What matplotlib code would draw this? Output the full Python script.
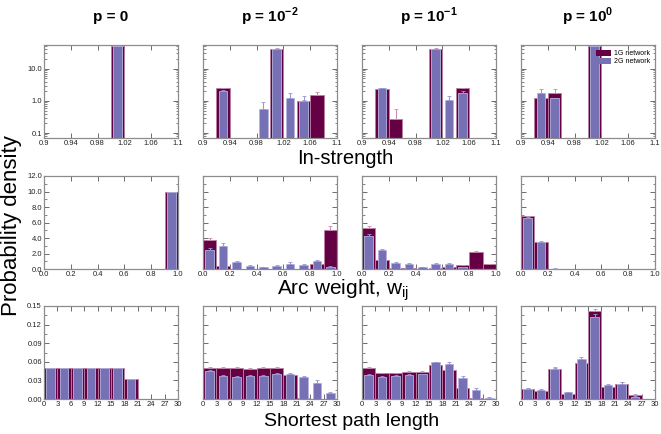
import numpy as np
import matplotlib.pyplot as plt
from matplotlib.ticker import AutoMinorLocator, FixedLocator, LogLocator, NullFormatter
from matplotlib.patches import Patch

plt.rcParams["font.family"] = ["Liberation Sans", "DejaVu Sans"]
plt.rcParams["mathtext.fontset"] = "custom"
plt.rcParams["mathtext.rm"] = "Liberation Sans"
plt.rcParams["mathtext.bf"] = "Liberation Sans:bold"

# ---- data ----
p_titles = ["p = 0", r"p = 10$^{\mathbf{-2}}$", r"p = 10$^{\mathbf{-1}}$", r"p = 10$^{\mathbf{0}}$"]

# in-strength, bins of 0.02 from 0.9 to 1.1
s_centers = [0.91, 0.93, 0.95, 0.97, 0.99, 1.01, 1.03, 1.05, 1.07, 1.09]
s_g1 = [
    [0, 0, 0, 0, 0, 50, 0, 0, 0, 0],
    [0, 2.5, 0, 0, 0, 42, 0, 1.0, 1.5, 0],
    [0, 2.3, 0.27, 0, 0, 42, 0, 2.5, 0, 0],
    [0, 1.2, 1.8, 0, 0, 50, 0, 0, 0, 0],
]
s_g2 = [
    [0, 0, 0, 0, 0, 50, 0, 0, 0, 0],
    [0, 2.1, 0, 0, 0.55, 40, 1.27, 1.0, 0, 0],
    [0, 2.5, 0, 0, 0, 40, 1.05, 1.8, 0, 0],
    [0, 1.8, 1.2, 0, 0, 50, 0, 0, 0, 0],
]
s_e1 = [
    [0] * 10,
    [0, 0.1, 0, 0, 0, 1.0, 0, 0.1, 0.35, 0],
    [0, 0.1, 0.28, 0, 0, 1.0, 0, 0.1, 0, 0],
    [0, 0.1, 0.5, 0, 0, 0, 0, 0, 0, 0],
]
s_e2 = [
    [0] * 10,
    [0, 0.1, 0.35, 0, 0.35, 1.0, 0.45, 0.4, 0, 0],
    [0, 0.1, 0, 0, 0, 1.0, 0.4, 0.3, 0, 0],
    [0, 0.5, 0.0, 0, 0, 0, 0, 0, 0, 0],
]

# arc weight, bins of 0.1
w_centers = [0.05, 0.15, 0.25, 0.35, 0.45, 0.55, 0.65, 0.75, 0.85, 0.95]
w_g1 = [
    [0, 0, 0, 0, 0, 0, 0, 0, 0, 10.0],
    [3.8, 0.43, 0.05, 0.05, 0.02, 0.05, 0.05, 0.05, 0.69, 5.0],
    [5.35, 1.22, 0.15, 0.1, 0.05, 0.1, 0.3, 0.52, 2.17, 0.6],
    [6.78, 3.44, 0, 0, 0, 0, 0, 0, 0, 0],
]
w_g2 = [
    [0, 0, 0, 0, 0, 0, 0, 0, 0, 10.0],
    [2.5, 3.0, 0.87, 0.43, 0.22, 0.43, 0.69, 0.48, 1.0, 0.3],
    [4.26, 2.43, 0.78, 0.65, 0.26, 0.65, 0.7, 0.26, 0.05, 0.05],
    [6.57, 3.5, 0.05, 0, 0, 0, 0, 0, 0, 0],
]
w_e1 = [
    [0] * 10,
    [0.15, 0.05, 0, 0, 0, 0, 0, 0, 0.08, 0.6],
    [0.2, 0.1, 0, 0, 0, 0, 0, 0.05, 0.15, 0.05],
    [0.1, 0.1, 0, 0, 0, 0, 0, 0, 0, 0],
]
w_e2 = [
    [0] * 10,
    [0.2, 0.3, 0.12, 0.12, 0.06, 0.1, 0.25, 0.12, 0.15, 0.08],
    [0.2, 0.15, 0.1, 0.08, 0.05, 0.08, 0.12, 0.05, 0, 0],
    [0.1, 0.1, 0.02, 0, 0, 0, 0, 0, 0, 0],
]

# shortest path length, bins of 3
l_centers = [1.5, 4.5, 7.5, 10.5, 13.5, 16.5, 19.5, 22.5, 25.5, 28.5]
l_g1 = [
    [0.05, 0.05, 0.05, 0.05, 0.05, 0.05, 0.033, 0, 0, 0],
    [0.0508, 0.0508, 0.05, 0.049, 0.05, 0.05, 0.039, 0.001, 0, 0],
    [0.050, 0.0416, 0.0416, 0.0437, 0.0437, 0.0545, 0.047, 0.017, 0.001, 0],
    [0.0168, 0.0124, 0.049, 0.0076, 0.058, 0.142, 0.02, 0.025, 0.007, 0],
]
l_g2 = [
    [0.05, 0.05, 0.05, 0.05, 0.05, 0.05, 0.033, 0, 0, 0],
    [0.0453, 0.0378, 0.0356, 0.037, 0.037, 0.0404, 0.04, 0.036, 0.026, 0.009],
    [0.0395, 0.036, 0.0374, 0.039, 0.040, 0.059, 0.057, 0.0334, 0.015, 0.002],
    [0.0168, 0.015, 0.048, 0.011, 0.065, 0.133, 0.023, 0.025, 0.004, 0],
]
l_e1 = [
    [0] * 10,
    [0.001, 0.001, 0.001, 0.001, 0.001, 0.001, 0.001, 0, 0, 0],
    [0.001, 0.001, 0.001, 0.001, 0.001, 0.001, 0.001, 0.001, 0, 0],
    [0.001, 0.001, 0.002, 0.001, 0.002, 0.003, 0.001, 0.002, 0.001, 0],
]
l_e2 = [
    [0] * 10,
    [0.001, 0.001, 0.001, 0.001, 0.001, 0.002, 0.002, 0.001, 0.004, 0.003],
    [0.001, 0.001, 0.001, 0.002, 0.001, 0.001, 0.002, 0.003, 0.002, 0.001],
    [0.001, 0.001, 0.002, 0.001, 0.002, 0.004, 0.001, 0.002, 0.001, 0],
]

c1 = "#660044"
c2 = "#7670B4"

rows = [
    (s_centers, 0.02, s_g1, s_g2, s_e1, s_e2),
    (w_centers, 0.1, w_g1, w_g2, w_e1, w_e2),
    (l_centers, 3.0, l_g1, l_g2, l_e1, l_e2),
]

W, H = 661, 434
fig = plt.figure(figsize=(W / 100, H / 100), dpi=100)

col_left = [44, 203, 362, 521]
row_top = [45, 176, 306]
ax_w, ax_h = 134, 93

for r, (cen, bw, g1s, g2s, e1s, e2s) in enumerate(rows):
    for c in range(4):
        ax = fig.add_axes([col_left[c] / W, 1 - (row_top[r] + ax_h) / H, ax_w / W, ax_h / H])
        x = np.array(cen)
        g1 = np.array(g1s[c], dtype=float)
        g2 = np.array(g2s[c], dtype=float)
        e1 = np.array(e1s[c], dtype=float)
        e2 = np.array(e2s[c], dtype=float)
        m1 = g1 > 0
        m2 = g2 > 0
        ax.bar(x[m1], g1[m1], width=bw, color=c1, edgecolor="#b97fa0", lw=0.6, zorder=2)
        ax.bar(x[m2], g2[m2], width=bw * 0.65, color=c2, edgecolor="#b4b2e0", lw=0.6, zorder=3)
        k1 = m1 & (e1 > 0)
        k2 = m2 & (e2 > 0)
        ax.errorbar(x[k1], g1[k1], yerr=[np.zeros(k1.sum()), e1[k1]], fmt="none",
                    ecolor="#c890b0", elinewidth=0.8, capsize=1.5, capthick=0.6, zorder=2.5)
        ax.errorbar(x[k2], g2[k2], yerr=[np.zeros(k2.sum()), e2[k2]], fmt="none",
                    ecolor="#9a96d4", elinewidth=0.8, capsize=1.5, capthick=0.6, zorder=3.5)

        if r == 0:
            ax.set_yscale("log")
            ax.set_ylim(0.07, 55)
            ax.set_xlim(0.9, 1.1)
            ax.set_xticks([0.9, 0.94, 0.98, 1.02, 1.06, 1.1])
            ax.set_xticklabels(["0.9", "0.94", "0.98", "1.02", "1.06", "1.1"])
            ax.yaxis.set_major_locator(FixedLocator([0.1, 1.0, 10.0]))
            ax.yaxis.set_minor_locator(LogLocator(base=10, subs=np.arange(2, 10)))
            ax.yaxis.set_minor_formatter(NullFormatter())
            ylabels = ["0.1", "1.0", "10.0"]
        elif r == 1:
            ax.set_ylim(0, 12)
            ax.set_xlim(0, 1)
            ax.set_xticks([0, 0.2, 0.4, 0.6, 0.8, 1.0])
            ax.set_xticklabels(["0.0", "0.2", "0.4", "0.6", "0.8", "1.0"])
            ax.set_yticks([0, 2, 4, 6, 8, 10, 12])
            ax.yaxis.set_minor_locator(AutoMinorLocator(2))
            ylabels = ["0.0", "2.0", "4.0", "6.0", "8.0", "10.0", "12.0"]
        else:
            ax.set_ylim(0, 0.15)
            ax.set_xlim(0, 30)
            ax.set_xticks(range(0, 31, 3))
            ax.set_yticks([0, 0.03, 0.06, 0.09, 0.12, 0.15])
            ax.yaxis.set_minor_locator(AutoMinorLocator(2))
            ylabels = ["0.00", "0.03", "0.06", "0.09", "0.12", "0.15"]

        if c == 0:
            ax.set_yticklabels(ylabels)
        else:
            ax.set_yticklabels([])

        ax.tick_params(which="both", direction="in", top=True, right=True,
                       colors="#555555", labelcolor="#222222", labelsize=5.5, pad=1.5)
        ax.tick_params(which="major", length=3.5, width=0.6)
        ax.tick_params(which="minor", length=1.8, width=0.5)
        for sp in ax.spines.values():
            sp.set_color("#8c8c8c")
            sp.set_linewidth(0.9)

        if r == 0:
            fig.text((col_left[c] + ax_w / 2) / W, 1 - 17 / H, p_titles[c],
                     ha="center", va="center", fontsize=11, fontweight="bold")
        if r == 0 and c == 3:
            handles = [Patch(facecolor=c1, edgecolor="none"), Patch(facecolor=c2, edgecolor="none")]
            ax.legend(handles, ["1G network", "2G network"], loc="upper right", fontsize=5,
                      frameon=False, handlelength=2.2, handleheight=0.9,
                      borderaxespad=0.3, labelspacing=0.1, handletextpad=0.4)

fig.text(345 / W, 1 - 159 / H, "In-strength", ha="center", va="center", fontsize=14.5)
fig.text(343 / W, 1 - 294 / H, r"Arc weight, w$_{\mathregular{ij}}$", ha="center", va="baseline",
         fontsize=15)
fig.text(352 / W, 1 - 426 / H, "Shortest path length", ha="center", va="baseline", fontsize=14)
fig.text(12 / W, 1 - 226 / H, "Probability density", ha="center", va="center",
         rotation=90, fontsize=16)

fig.savefig("out.png", dpi=100)
